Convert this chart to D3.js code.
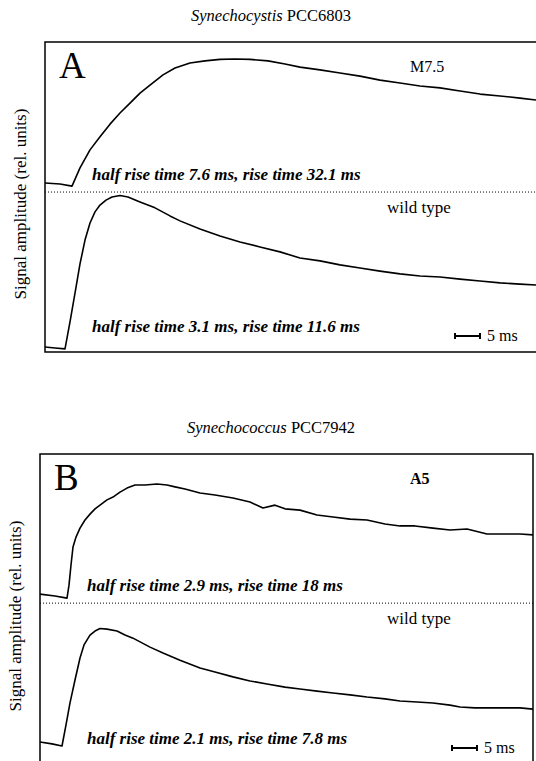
<!DOCTYPE html>
<html>
<head>
<meta charset="utf-8">
<script src="https://cdn.jsdelivr.net/npm/d3@7"></script>
<style>
  body { margin: 0; background: #fff; }
  svg { display: block; font-family: 'Liberation Serif', 'Times New Roman', serif; }
</style>
</head>
<body>
<div id="chart"></div>
<script>
const width = 536;
const height = 761;

// time in ms from left edge of each panel, amplitude in rel. units (0 = panel bottom, 100 = panel top)
const m75Time = [0, 3, 5.4, 7, 9, 11, 13, 15, 17, 19, 21, 23.6, 26, 29, 32, 35, 38, 41, 44.6, 48, 51, 55, 59, 63, 67, 71, 75, 79, 83, 87, 91, 95, 98.2];
const m75Value = [54.5, 54.2, 53.5, 59.4, 65.2, 69.4, 73.5, 77.1, 80.3, 83.5, 86.1, 89.4, 91.6, 93.2, 93.9, 94.4, 94.5, 94.4, 93.9, 92.9, 91.9, 91.0, 90.0, 89.0, 87.7, 86.8, 85.8, 85.2, 84.2, 83.2, 82.6, 81.9, 81.3];

const wtATime = [0, 2, 4, 5, 6, 7, 8, 9, 10, 11, 12.2, 13.4, 15, 16.6, 19, 22, 25, 27, 31, 35, 39, 43, 47, 51, 55, 59, 63, 67, 71, 75, 79, 83, 87, 91, 95, 98.2];
const wtAValue = [1.6, 1.3, 1.0, 9.7, 19.0, 28.4, 36.1, 41.6, 45.2, 47.4, 49.0, 50.0, 50.5, 50.0, 48.4, 46.5, 43.9, 42.3, 39.7, 37.4, 35.5, 33.9, 32.3, 30.3, 29.4, 28.1, 27.1, 26.1, 25.2, 24.5, 24.2, 23.5, 22.9, 22.3, 21.9, 21.6];

const a5Time = [0, 3, 5.4, 5.8, 6.2, 6.6, 7.2, 8, 9, 10, 11, 12, 13.4, 14.6, 16, 17.4, 19, 21, 23.4, 25.4, 27, 29, 32, 35, 38.6, 42, 44.6, 47, 49, 52, 55.4, 58.6, 62, 65.4, 69, 72, 75, 78.6, 82, 85.4, 89.4, 93, 96, 98.6];
const a5Value = [54.8, 54.2, 53.5, 57.7, 64.2, 70.0, 73.2, 76.1, 78.7, 80.6, 82.3, 83.5, 85.2, 86.1, 87.7, 89.0, 90.0, 90.0, 90.3, 90.0, 89.4, 88.7, 87.4, 86.8, 85.8, 84.5, 82.6, 83.5, 82.3, 81.9, 80.3, 79.7, 79.0, 78.7, 77.4, 76.8, 76.8, 76.1, 75.5, 75.8, 74.2, 74.2, 74.2, 73.9];

const wtBTime = [0, 2.4, 4.4, 5.2, 6, 7, 8, 8.8, 10, 11, 12, 13.4, 15.4, 17, 18.6, 22, 24.6, 28, 32, 35, 38.6, 42, 45.4, 49, 52, 55.4, 58.6, 62, 65.4, 69, 72, 75.4, 78.6, 82, 84, 87, 90, 93, 96, 98.6];
const wtBValue = [7.1, 6.5, 5.8, 12.6, 19.7, 27.1, 34.2, 38.4, 41.6, 42.9, 43.7, 43.5, 42.9, 41.6, 40.6, 37.7, 35.8, 33.5, 31.0, 29.7, 28.1, 26.8, 25.8, 24.8, 24.2, 23.5, 22.9, 22.3, 21.6, 21.0, 20.3, 20.0, 19.7, 19.0, 18.4, 18.1, 18.1, 18.1, 18.1, 17.7];

const panels = [
  {
    title: 'Synechocystis', strain: 'PCC6803', letter: 'A', mutant: 'M7.5',
    top: 42, left: 45, right: 545, frameRight: null, boxHeight: 310, domainMax: 100,
    series: [[m75Time, m75Value], [wtATime, wtAValue]],
    divider: 51.6, scaleBarStart: 82,
    mutantText: 'half rise time 7.6 ms, rise time 32.1 ms',
    wtText: 'half rise time 3.1 ms, rise time 11.6 ms'
  },
  {
    title: 'Synechococcus', strain: 'PCC7942', letter: 'B', mutant: 'A5',
    top: 454, left: 40, right: 533, frameRight: 533, boxHeight: 310, domainMax: 98.6,
    series: [[a5Time, a5Value], [wtBTime, wtBValue]],
    divider: 51.9, scaleBarStart: 82.4,
    mutantText: 'half rise time 2.9 ms, rise time 18 ms',
    wtText: 'half rise time 2.1 ms, rise time 7.8 ms'
  }
];

const svg = d3.select('#chart')
  .append('svg')
  .attr('width', width)
  .attr('height', height);

panels.forEach((p) => {
  const bottom = p.top + p.boxHeight;
  const x = d3.scaleLinear().domain([0, p.domainMax]).range([p.left, p.right]);
  const y = d3.scaleLinear().domain([0, 100]).range([bottom, p.top]);
  const g = svg.append('g');

  // title
  const t = g.append('text')
    .attr('x', 271)
    .attr('y', p.top - 21)
    .attr('text-anchor', 'middle')
    .attr('font-size', 16.5);
  t.append('tspan').attr('font-style', 'italic').text(p.title);
  t.append('tspan').text(' ' + p.strain);

  // y label
  g.append('text')
    .attr('transform', `translate(${p.left - 19}, ${p.top + 162}) rotate(-90)`)
    .attr('text-anchor', 'middle')
    .attr('font-size', 17)
    .text('Signal amplitude (rel. units)');

  // frame
  const xr = p.frameRight == null ? width : p.frameRight;
  g.append('path')
    .attr('fill', 'none')
    .attr('stroke', '#000')
    .attr('stroke-width', 1.5)
    .attr('d', p.frameRight == null
      ? `M${xr},${p.top}H${p.left}V${bottom}H${xr}`
      : `M${p.left},${bottom}V${p.top}H${xr}V${bottom}`);

  // dotted divider
  g.append('line')
    .attr('x1', p.left).attr('x2', xr)
    .attr('y1', y(p.divider)).attr('y2', y(p.divider))
    .attr('stroke', '#000')
    .attr('stroke-width', 1)
    .attr('stroke-dasharray', '1,2');

  // traces
  const line = d3.line()
    .x((d) => x(d[0]))
    .y((d) => y(d[1]));
  p.series.forEach(([ts, vs]) => {
    g.append('path')
      .datum(ts.map((d, i) => [d, vs[i]]))
      .attr('fill', 'none')
      .attr('stroke', '#000')
      .attr('stroke-width', 1.6)
      .attr('stroke-linejoin', 'round')
      .attr('d', line);
  });

  // labels
  g.append('text')
    .attr('x', p.left + 14).attr('y', p.top + 36)
    .attr('font-size', 37)
    .text(p.letter);
  g.append('text')
    .attr('x', 410).attr('y', p.top + 30)
    .attr('font-size', 16)
    .attr('font-weight', p.letter === 'B' ? 'bold' : 'normal')
    .text(p.mutant);
  g.append('text')
    .attr('x', 387).attr('y', y(p.divider) + 21)
    .attr('font-size', 17)
    .text('wild type');
  g.append('text')
    .attr('x', p.left + 47).attr('y', y(p.divider) - 12)
    .attr('font-size', 17)
    .attr('font-style', 'italic')
    .attr('font-weight', 'bold')
    .text(p.mutantText);
  g.append('text')
    .attr('x', p.left + 47).attr('y', bottom - 20)
    .attr('font-size', 17)
    .attr('font-style', 'italic')
    .attr('font-weight', 'bold')
    .text(p.wtText);

  // 5 ms scale bar
  const sbY = bottom - 16;
  const x0 = x(p.scaleBarStart);
  const x1 = x(p.scaleBarStart + 5);
  g.append('path')
    .attr('fill', 'none')
    .attr('stroke', '#000')
    .attr('stroke-width', 2)
    .attr('d', `M${x0},${sbY - 3}V${sbY + 3}M${x0},${sbY}H${x1}M${x1},${sbY - 3}V${sbY + 3}`);
  g.append('text')
    .attr('x', x1 + 7).attr('y', sbY + 5)
    .attr('font-size', 16)
    .text('5 ms');
});
</script>
</body>
</html>
